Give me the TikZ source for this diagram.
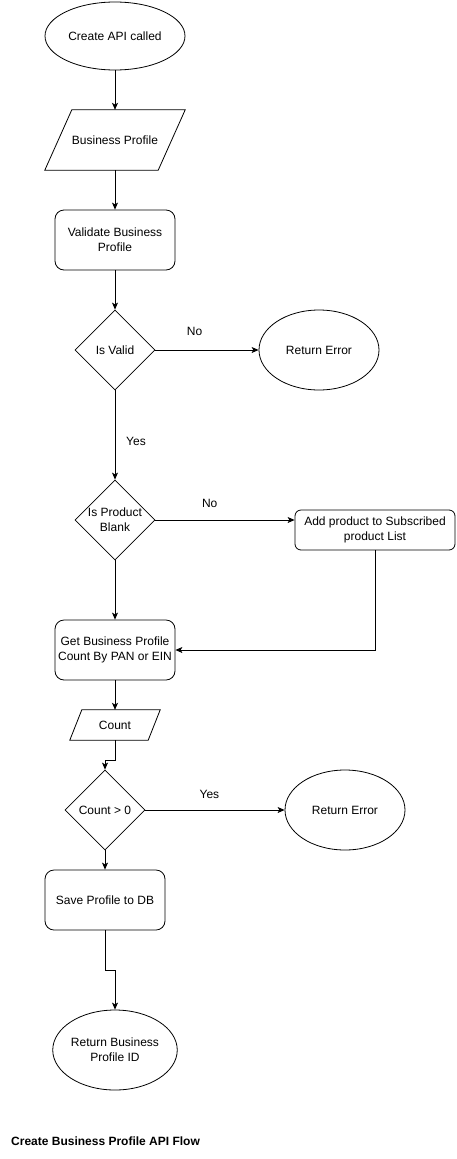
\documentclass[tikz,border=0pt]{standalone}
\usepackage{fontspec}
\setmainfont{Liberation Sans}
\usetikzlibrary{shapes.geometric,arrows.meta}
\begin{document}
\begin{tikzpicture}[x=1pt,y=-1pt,
  every node/.style={font=\fontsize{12}{15}\selectfont, align=center, inner sep=0pt},
  base/.style={draw=black, line width=0.8pt},
  term/.style={base, ellipse, minimum width=#1, minimum height=80pt},
  proc/.style={base, rectangle, rounded corners=9pt, minimum width=120pt, minimum height=60pt},
  dec/.style={base, diamond, minimum width=80pt, minimum height=80pt, aspect=1},
  iobox/.style={rectangle, minimum width=#1},
  conn/.style={line width=0.8pt, -{Stealth[length=7pt,width=6pt,inset=1.8pt]}},
  lbl/.style={font=\fontsize{12}{15}\selectfont}
]
\useasboundingbox (0,0) rectangle (456,1159);

\node[term=140pt, minimum height=68pt] (start) at (115,36) {Create API called};
\node[iobox=140pt, minimum height=60pt] (bp) at (115,140) {Business Profile};
\node[proc] (val) at (115,240) {Validate Business\\Profile};
\node[dec] (isv) at (115,350) {Is Valid};
\node[term=120pt] (err1) at (319,350) {Return Error};
\node[dec] (ipb) at (115,520) {Is Product\\Blank};
\node[base, rectangle, rounded corners=6pt, minimum width=160pt, minimum height=40pt] (add) at (375,530) {Add product to Subscribed\\product List};
\node[proc] (get) at (115,650) {Get Business Profile\\Count By PAN or EIN};
\node[iobox=90pt, minimum height=30pt] (cnt) at (115,725) {Count};
\node[dec] (c0) at (105,810) {Count > 0};
\node[term=120pt] (err2) at (345,810) {Return Error};
\node[proc] (save) at (105,900) {Save Profile to DB};
\node[term=120pt] (ret) at (115,1050) {Return Business\\Profile ID};
\node[anchor=west, font=\fontsize{12}{15}\selectfont\bfseries] (title) at (11,1141) {Create Business Profile API Flow};

% parallelograms
\draw[base] (bp.south west) -- ([xshift=27pt]bp.north west) -- (bp.north east) -- ([xshift=-27pt]bp.south east) -- cycle;
\draw[base] (cnt.south west) -- ([xshift=12pt]cnt.north west) -- (cnt.north east) -- ([xshift=-12pt]cnt.south east) -- cycle;

\coordinate (b1) at (115,760);
\coordinate (b2) at (105,970);

\draw[conn] (start) -- (bp);
\draw[conn] (bp) -- (val);
\draw[conn] (val) -- (isv);
\draw[conn] (isv) -- node[lbl, pos=0.38, yshift=19pt] {No} (err1);
\draw[conn] (isv) -- node[lbl, pos=0.57, xshift=21pt] {Yes} (ipb);
\draw[conn] (ipb.east) -- node[lbl, pos=0.39, yshift=17pt] {No} (ipb.east -| add.west);
\draw[conn] (ipb) -- (get);
\draw[conn] (add.south) |- (get.east);
\draw[conn] (get) -- (cnt);
\draw[conn] (cnt.south) -- (b1) -| (c0.north);
\draw[conn] (c0) -- node[lbl, pos=0.46, yshift=16pt] {Yes} (err2);
\draw[conn] (c0) -- (save);
\draw[conn] (save.south) -- (b2) -| (ret.north);
\end{tikzpicture}
\end{document}
